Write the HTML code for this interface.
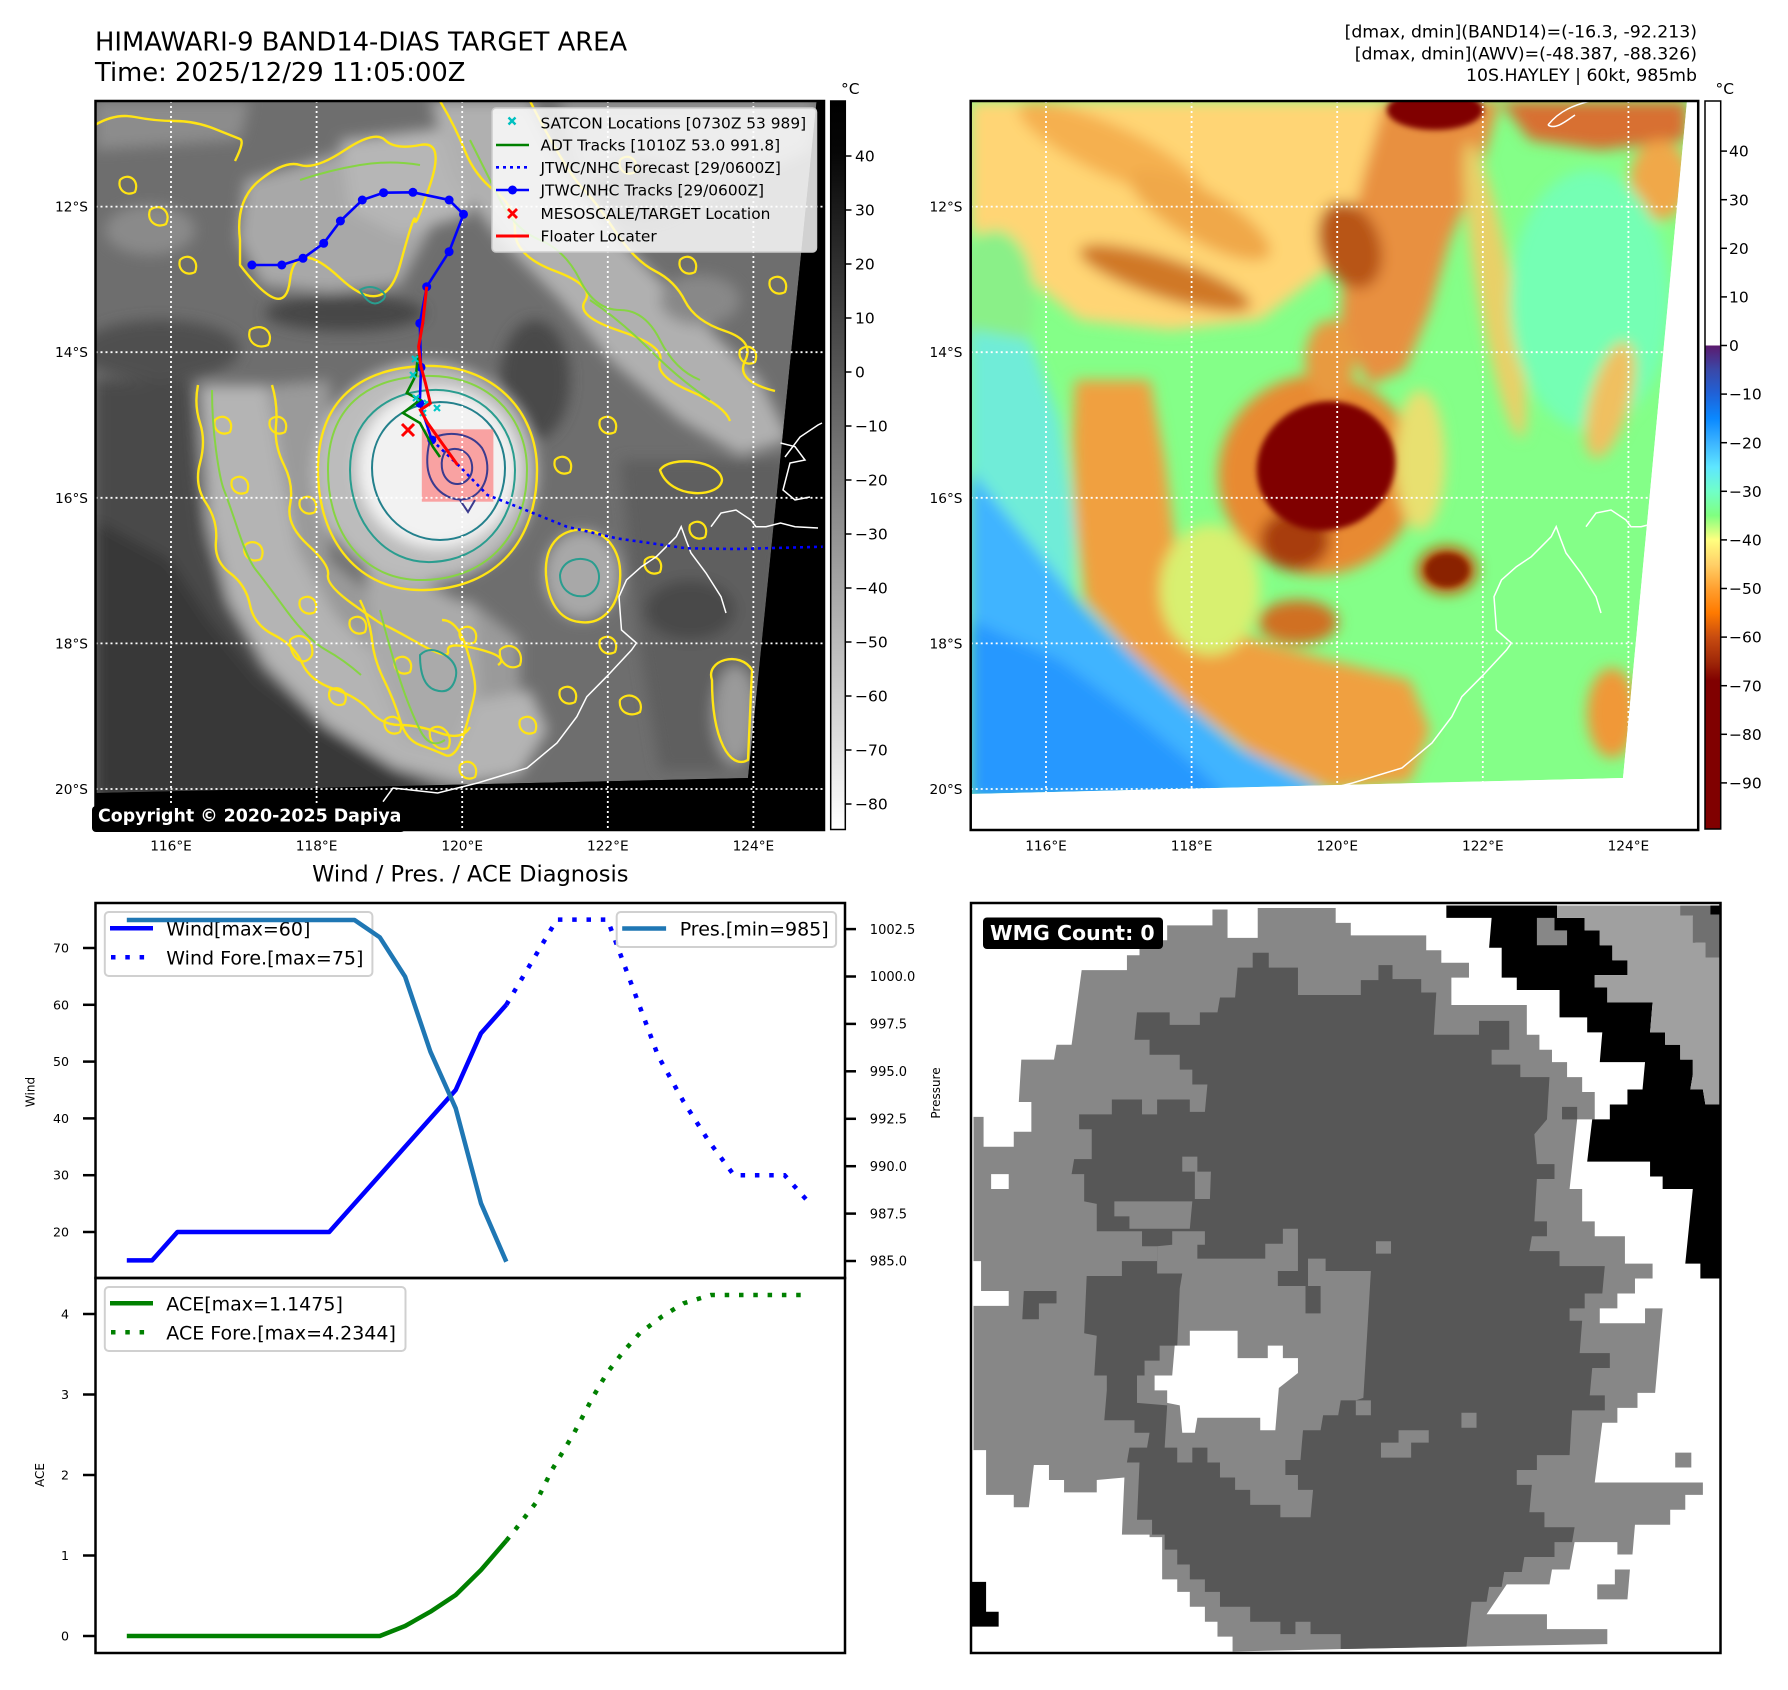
<!DOCTYPE html>
<html><head><meta charset="utf-8"><style>
html,body{margin:0;padding:0;background:#fff;}
svg{display:block;}
text{font-family:"DejaVu Sans","Liberation Sans",sans-serif;}
</style></head><body>
<svg width="1788" height="1690" viewBox="0 0 1788 1690" xmlns="http://www.w3.org/2000/svg">
<defs>
<filter id="bl" x="-10%" y="-10%" width="120%" height="120%"><feGaussianBlur stdDeviation="7"/></filter>
<filter id="bs" x="-10%" y="-10%" width="120%" height="120%"><feGaussianBlur stdDeviation="3"/></filter>
<clipPath id="cL"><polygon points="95.5,101 816.6,101 748,778 95.5,793"/></clipPath>
<clipPath id="cR"><polygon points="970.7,101 1687,101 1623,778 970.7,794"/></clipPath>
<clipPath id="cW"><rect x="971" y="903" width="749.5" height="750"/></clipPath>
<linearGradient id="gL" x1="0" y1="0" x2="0" y2="1">
<stop offset="0" stop-color="#000"/><stop offset="0.07" stop-color="#060606"/><stop offset="1" stop-color="#fff"/>
</linearGradient>
<linearGradient id="gR" x1="0" y1="0" x2="0" y2="1">
<stop offset="0" stop-color="#fff"/><stop offset="0.3358" stop-color="#fff"/>
<stop offset="0.3359" stop-color="#5c1a6e"/><stop offset="0.3692" stop-color="#3a48a8"/>
<stop offset="0.4026" stop-color="#1f62d8"/><stop offset="0.4360" stop-color="#0a88ff"/>
<stop offset="0.4694" stop-color="#3cb4ff"/><stop offset="0.5027" stop-color="#5ee6ff"/>
<stop offset="0.5361" stop-color="#70ffc8"/><stop offset="0.5695" stop-color="#80ff80"/>
<stop offset="0.6029" stop-color="#ffff80"/><stop offset="0.6363" stop-color="#ffd068"/>
<stop offset="0.6696" stop-color="#ffa030"/><stop offset="0.7030" stop-color="#ff7a00"/>
<stop offset="0.7364" stop-color="#c84c10"/><stop offset="0.7698" stop-color="#a02808"/>
<stop offset="0.7964" stop-color="#800000"/><stop offset="1" stop-color="#800000"/>
</linearGradient>
</defs>

<!-- ===== Titles ===== -->
<text x="95" y="50.7" font-size="25.8" fill="#000">HIMAWARI-9 BAND14-DIAS TARGET AREA</text>
<text x="95" y="81" font-size="25.8" fill="#000">Time: 2025/12/29 11:05:00Z</text>
<text x="1697" y="37.7" font-size="17.3" text-anchor="end" fill="#000">[dmax, dmin](BAND14)=(-16.3, -92.213)</text>
<text x="1697" y="59.4" font-size="17.3" text-anchor="end" fill="#000">[dmax, dmin](AWV)=(-48.387, -88.326)</text>
<text x="1697" y="81" font-size="17.3" text-anchor="end" fill="#000">10S.HAYLEY | 60kt, 985mb</text>

<!-- ===== LEFT MAP ===== -->
<rect x="95.5" y="101" width="728.5" height="729" fill="#000"/>
<g clip-path="url(#cL)">
<rect x="95" y="101" width="730" height="730" fill="#6e6e6e"/>
<g filter="url(#bl)">
<path d="M95,101 L250,101 L240,140 L95,150Z" fill="#8c8c8c"/>
<path d="M245,180 L300,165 L345,150 L400,140 L445,170 L430,230 L400,285 L330,292 L262,285 L238,240Z" fill="#a8a8a8"/>
<path d="M340,140 L470,125 L470,215 L400,235 L350,210Z" fill="#b6b6b6"/>
<path d="M430,101 L530,101 L560,160 L620,240 L700,320 L760,380 L790,440 L740,455 L680,420 L610,360 L560,300 L500,240 L455,180Z" fill="#b0b0b0"/>
<path d="M560,101 L816,101 L812,150 L700,200 L610,210 L570,160Z" fill="#9a9a9a"/>
<ellipse cx="345" cy="313" rx="80" ry="18" fill="#474747"/>
<ellipse cx="160" cy="350" rx="80" ry="30" fill="#505050"/>
<ellipse cx="535" cy="380" rx="35" ry="60" fill="#4a4a4a"/>
<ellipse cx="640" cy="190" rx="50" ry="30" fill="#5a5a5a"/>
<ellipse cx="700" cy="300" rx="40" ry="25" fill="#888"/>
<ellipse cx="150" cy="230" rx="45" ry="25" fill="#8a8a8a"/>
<path d="M95,380 L190,380 L196,470 L205,540 L230,610 L270,665 L325,710 L390,755 L440,790 L460,800 L95,800Z" fill="#4a4a4a"/>
<path d="M95,520 L170,560 L210,620 L260,680 L330,730 L400,775 L430,800 L95,800Z" fill="#383838"/>
<path d="M270,385 L330,380 L330,560 L380,600 L470,600 L520,640 L520,700 L420,700 L330,640 L290,560Z" fill="#9a9a9a"/>
<path d="M200,385 L268,385 L282,470 L298,550 L335,615 L380,660 L430,690 L480,700 L530,690 L548,730 L520,775 L460,785 L395,768 L325,725 L265,665 L228,600 L208,520Z" fill="#b4b4b4"/>
<path d="M365,560 L430,585 L475,610 L480,690 L455,750 L405,740 L372,660Z" fill="#aaaaaa"/>
<ellipse cx="582" cy="575" rx="38" ry="45" fill="#a8a8a8"/>
<path d="M620,460 L790,460 L775,600 L760,770 L660,770 L640,650Z" fill="#5e5e5e"/>
<ellipse cx="690" cy="610" rx="45" ry="30" fill="#4a4a4a"/>
<ellipse cx="735" cy="715" rx="22" ry="50" fill="#9a9a9a"/>
<ellipse cx="425" cy="472" rx="112" ry="110" fill="#bcbcbc"/>
<ellipse cx="438" cy="468" rx="80" ry="80" fill="#f2f2f2"/>
</g>
<!-- contours -->
<g fill="none" stroke-width="2.4" stroke-linejoin="round">
<path stroke="#ffe414" d="M318,470 C318,400 360,368 425,366 C492,364 537,410 537,470 C537,540 497,588 425,590 C358,592 318,540 318,470Z"/>
<path stroke="#ffe414" d="M198,385 q-4,20 2,38 t0,40 t6,40 t10,38 t14,32 t20,32 t24,30 t28,28 t32,26 t36,22 t30,14 t40,8 t30,-6"/>
<path stroke="#ffe414" d="M272,385 q6,20 4,40 t8,40 t6,40 t18,40 t20,30 t26,30 t30,20 t34,18 t30,8 t30,-2 t20,16"/>
<path stroke="#ffe414" d="M360,600 q10,20 12,40 t12,40 t16,40 t20,25 t25,10 t20,-25 t10,-40 t-8,-40 t-25,-30"/>
<path stroke="#ffe414" d="M546,575 C544,540 565,528 585,530 C610,532 622,555 620,580 C618,610 600,625 580,622 C558,620 548,600 546,575Z"/>
<path stroke="#ffe414" d="M240,240 q-5,-40 20,-60 t40,-15 t45,-15 t40,-10 t35,5 t10,40 t-15,35 t-15,45 t-60,13 t-50,2 t-50,-15Z"/>
<path stroke="#ffe414" d="M440,101 q15,25 25,50 t30,40 t20,40 t40,40 t30,30 t35,30 t40,30 t30,30 t40,30"/>
<path stroke="#ffe414" d="M530,101 q15,30 30,55 t25,35 t30,40 t40,40 t30,30 t40,30 t20,30 t30,30"/>
<path stroke="#ffe414" d="M95,125 q20,-12 40,-8 t40,4 t40,8 t25,10 t-5,22"/>
<path stroke="#ffe414" d="M712,680 C705,660 740,650 752,670 L748,760 C730,770 712,740 712,680Z"/>
<path stroke="#ffe414" d="M660,470 C670,455 720,460 722,480 C720,498 670,500 660,470Z"/>
<path stroke="#ffe414" stroke-width="2.2" d="M290,640 c10,-10 25,0 22,15 c-7,13 -22,5 -22,-15Z M430,730 c10,-10 25,5 18,18 c-10,4 -20,-6 -18,-18Z M500,650 c10,-10 25,0 20,15 c-10,7 -22,-3 -20,-15Z M250,330 c12,-8 25,2 18,15 c-10,5 -22,-3 -18,-15Z M620,700 c8,-10 25,-2 20,12 c-10,6 -22,0 -20,-12Z M215,420 c8,-8 20,0 15,12 c-8,5 -18,-2 -15,-12Z M232,480 c8,-8 20,0 15,12 c-8,5 -18,-2 -15,-12Z M245,545 c10,-8 22,2 16,14 c-9,5 -20,-3 -16,-14Z M300,600 c8,-8 20,0 15,12 c-8,5 -18,-2 -15,-12Z M330,690 c10,-6 20,4 14,14 c-9,4 -18,-4 -14,-14Z M385,720 c8,-8 20,0 15,12 c-8,5 -18,-2 -15,-12Z M460,765 c8,-8 20,0 15,12 c-8,5 -18,-2 -15,-12Z M520,720 c8,-8 20,0 15,12 c-8,5 -18,-2 -15,-12Z M560,690 c8,-8 20,0 15,12 c-8,5 -18,-2 -15,-12Z M600,640 c8,-8 20,0 15,12 c-8,5 -18,-2 -15,-12Z M645,560 c8,-8 20,0 15,12 c-8,5 -18,-2 -15,-12Z M690,525 c8,-8 20,0 15,12 c-8,5 -18,-2 -15,-12Z M555,460 c8,-8 20,0 15,12 c-8,5 -18,-2 -15,-12Z M600,420 c8,-8 20,0 15,12 c-8,5 -18,-2 -15,-12Z M350,620 c8,-8 20,0 15,12 c-8,5 -18,-2 -15,-12Z M460,630 c8,-8 20,0 15,12 c-8,5 -18,-2 -15,-12Z M150,210 c10,-8 22,2 16,14 c-9,5 -20,-3 -16,-14Z M180,260 c8,-8 20,0 15,12 c-8,5 -18,-2 -15,-12Z M120,180 c8,-8 20,0 15,12 c-8,5 -18,-2 -15,-12Z M620,160 c8,-8 20,0 15,12 c-8,5 -18,-2 -15,-12Z M680,260 c8,-8 20,0 15,12 c-8,5 -18,-2 -15,-12Z M740,350 c8,-8 20,0 15,12 c-8,5 -18,-2 -15,-12Z M770,280 c8,-8 20,0 15,12 c-8,5 -18,-2 -15,-12Z M270,420 c8,-8 20,0 15,12 c-8,5 -18,-2 -15,-12Z M300,500 c8,-8 20,0 15,12 c-8,5 -18,-2 -15,-12Z M395,660 c8,-8 20,0 15,12 c-8,5 -18,-2 -15,-12Z"/>
<path stroke="#86d443" stroke-width="2" d="M328,470 C328,408 366,378 425,376 C486,374 527,415 527,470 C527,533 490,578 425,580 C364,582 328,534 328,470Z"/>
<path stroke="#86d443" stroke-width="2" d="M212,390 q0,30 4,60 t8,40 t14,40 t18,40 t30,40 t40,40 t35,25"/>
<path stroke="#86d443" stroke-width="2" d="M470,140 q15,30 30,60 t40,40 t40,40 t40,30 t40,30 t40,40"/>
<path stroke="#86d443" stroke-width="2" d="M380,610 q10,40 20,70 t20,50 t25,10 M300,180 q30,-10 60,-15 t60,0 M590,300 q30,20 60,50 t60,50"/>
<path stroke="#2a9d8f" stroke-width="2" d="M350,470 C350,420 385,392 432,390 C480,388 515,425 515,470 C515,522 482,560 432,562 C385,564 350,522 350,470Z"/>
<path stroke="#23808c" stroke-width="2" d="M372,468 C372,430 400,404 440,402 C478,402 505,432 505,468 C505,508 478,540 440,540 C402,540 372,508 372,468Z"/>
<path stroke="#2a9d8f" stroke-width="2" d="M560,575 C562,560 580,555 592,562 C604,572 600,592 585,596 C570,598 560,588 560,575Z"/>
<path stroke="#2a9d8f" stroke-width="2" d="M420,655 q10,-10 25,0 t10,25 t-20,10 t-15,-35Z M360,290 q10,-6 20,0 t0,12 t-20,-12Z"/>
</g>
<rect x="421.8" y="429.3" width="71.6" height="72.4" fill="#ff6060" fill-opacity="0.55"/>
<g fill="none" stroke="#3b3b8f" stroke-width="2">
<path d="M430,440 C445,430 470,432 482,448 C492,465 488,490 470,498 C450,504 432,490 428,470 C426,458 428,448 430,440Z"/>
<path d="M445,452 C455,445 470,450 472,465 C474,480 460,488 450,482 C440,475 440,460 445,452Z"/>
<path d="M460,500 L468,512 L475,500"/>
</g>
</g>
<!-- outside data black -->
<polygon points="816.6,101 824,101 824,830 95.5,830 95.5,793 748,778" fill="#000"/>
<!-- coastline -->
<g fill="none" stroke="#fff" stroke-width="1.5">
<polyline points="383,801.7 393,788 437.7,793 477.5,783 527,768 557,743 576.8,716.7 586.8,696.7 606.6,676.7 631.5,650 636.4,643 621.5,630 619,596.7 626.5,580 641.4,566.7 656.3,556.7 666.3,546.7 676.2,536.7 681.2,526.7 686,540 691,553 706,573 721,596.7 726,613"/>
<polyline points="711,526.7 721,513 736,510 751,520 756,526.7 766,526.7 780.5,523 795,526.7 818,528"/>
<polyline points="780.5,443 795,446.7 805,460 790,463 783,490 795,500 810,497"/>
<polyline points="785,457 800,437 818,425 822,423"/>
</g>
<!-- gridlines -->
<g stroke="#fff" stroke-width="1.8" stroke-dasharray="2 3">
<line x1="171" y1="101" x2="171" y2="830"/><line x1="316.6" y1="101" x2="316.6" y2="830"/>
<line x1="462.2" y1="101" x2="462.2" y2="830"/><line x1="607.8" y1="101" x2="607.8" y2="830"/>
<line x1="753.4" y1="101" x2="753.4" y2="830"/>
<line x1="95.5" y1="206.6" x2="824" y2="206.6"/><line x1="95.5" y1="352.2" x2="824" y2="352.2"/>
<line x1="95.5" y1="497.8" x2="824" y2="497.8"/><line x1="95.5" y1="643.4" x2="824" y2="643.4"/>
<line x1="95.5" y1="789" x2="824" y2="789"/>
</g>
<!-- tracks -->
<polyline fill="none" stroke="#0000ff" stroke-width="2.6" stroke-dasharray="3 4" points="431.8,440 460,466.7 487.4,495 517.2,506.7 566.9,526.7 616.6,538.3 686.1,548.3 735.8,549 824,546.7"/>
<polyline fill="none" stroke="#0000ff" stroke-width="2.6" points="251.9,265 281.8,265 303,258.3 323.7,243.3 340.4,221 362.3,200 383.6,192.7 412.9,192.3 449.1,200 463.5,214.3 449.1,251.7 426.7,286.7 419.8,323.3 421,367.3 419.8,403.3 431.8,440"/>
<g fill="#0000ff">
<circle cx="251.9" cy="265" r="4.5"/><circle cx="281.8" cy="265" r="4.5"/><circle cx="303" cy="258.3" r="4.5"/><circle cx="323.7" cy="243.3" r="4.5"/><circle cx="340.4" cy="221" r="4.5"/><circle cx="362.3" cy="200" r="4.5"/><circle cx="383.6" cy="192.7" r="4.5"/><circle cx="412.9" cy="192.3" r="4.5"/><circle cx="449.1" cy="200" r="4.5"/><circle cx="463.5" cy="214.3" r="4.5"/><circle cx="449.1" cy="251.7" r="4.5"/><circle cx="426.7" cy="286.7" r="4.5"/><circle cx="419.8" cy="323.3" r="4.5"/><circle cx="421" cy="367.3" r="4.5"/><circle cx="419.8" cy="403.3" r="4.5"/><circle cx="431.8" cy="440" r="4.5"/>
</g>
<polyline fill="none" stroke="#008000" stroke-width="2.6" points="418,355 416,375 406.8,393 420,400 403,413 420,423 433,447 440,457"/>
<g stroke="#00c8c8" stroke-width="2.2">
<path d="M412,356 l6,6 m0,-6 l-6,6 M410,372 l6,6 m0,-6 l-6,6 M413,395 l6,6 m0,-6 l-6,6 M424,400 l6,6 m0,-6 l-6,6 M434,405 l6,6 m0,-6 l-6,6 M420,410 l6,6 m0,-6 l-6,6"/>
</g>
<polyline fill="none" stroke="#ff0000" stroke-width="3" points="426.7,286.7 422.7,323.3 418.6,346.7 421,366.7 425.5,383.3 430.3,403.3 420.3,410 427.8,423.3 457.6,465"/>
<path d="M402,424 l12,12 m0,-12 l-12,12" stroke="#ff0000" stroke-width="3"/>
<!-- legend -->
<rect x="492" y="108" width="324.5" height="144" rx="4" fill="#fff" fill-opacity="0.82" stroke="#cccccc" stroke-width="1.5"/>
<path d="M508.5,117.5 l7,7 m0,-7 l-7,7" stroke="#00c0c0" stroke-width="2.4"/>
<line x1="496" y1="145" x2="529" y2="145" stroke="#008000" stroke-width="2.6"/>
<line x1="496" y1="167.3" x2="529" y2="167.3" stroke="#0000ff" stroke-width="2.6" stroke-dasharray="3 4"/>
<line x1="496" y1="190" x2="529" y2="190" stroke="#0000ff" stroke-width="2.6"/><circle cx="512.5" cy="190" r="4.5" fill="#0000ff"/>
<path d="M508,209 l9,9 m0,-9 l-9,9" stroke="#ff0000" stroke-width="2.8"/>
<line x1="496" y1="236" x2="529" y2="236" stroke="#ff0000" stroke-width="3"/>
<g font-size="15.4" fill="#000">
<text x="540.5" y="128.3">SATCON Locations [0730Z 53 989]</text>
<text x="540.5" y="150.6">ADT Tracks [1010Z 53.0 991.8]</text>
<text x="540.5" y="172.9">JTWC/NHC Forecast [29/0600Z]</text>
<text x="540.5" y="195.6">JTWC/NHC Tracks [29/0600Z]</text>
<text x="540.5" y="218.9">MESOSCALE/TARGET Location</text>
<text x="540.5" y="241.6">Floater Locater</text>
</g>
<rect x="92" y="806" width="313" height="26" rx="4" fill="#000"/>
<text x="98" y="821.7" font-size="17.4" font-weight="bold" fill="#fff">Copyright © 2020-2025 Dapiya</text>
<rect x="95.5" y="101" width="728.5" height="729" fill="none" stroke="#000" stroke-width="2.5"/>
<!-- left map tick labels -->
<g font-size="13.7" fill="#000" text-anchor="end">
<text x="88" y="211.6">12°S</text><text x="88" y="357.2">14°S</text><text x="88" y="502.8">16°S</text><text x="88" y="648.4">18°S</text><text x="88" y="794">20°S</text>
</g>
<g font-size="13.7" fill="#000" text-anchor="middle">
<text x="171" y="850.7">116°E</text><text x="316.6" y="850.7">118°E</text><text x="462.2" y="850.7">120°E</text><text x="607.8" y="850.7">122°E</text><text x="753.4" y="850.7">124°E</text>
</g>
<!-- left colorbar -->
<rect x="830.7" y="101" width="14.6" height="728.5" fill="url(#gL)" stroke="#000" stroke-width="1.5"/>
<text x="841" y="94" font-size="15.4" fill="#000">°C</text>
<g stroke="#000" stroke-width="1.5">
<line x1="845.3" y1="156" x2="851.5" y2="156"/><line x1="845.3" y1="210" x2="851.5" y2="210"/><line x1="845.3" y1="264" x2="851.5" y2="264"/><line x1="845.3" y1="318" x2="851.5" y2="318"/><line x1="845.3" y1="372" x2="851.5" y2="372"/><line x1="845.3" y1="426" x2="851.5" y2="426"/><line x1="845.3" y1="480" x2="851.5" y2="480"/><line x1="845.3" y1="534" x2="851.5" y2="534"/><line x1="845.3" y1="588" x2="851.5" y2="588"/><line x1="845.3" y1="642" x2="851.5" y2="642"/><line x1="845.3" y1="696" x2="851.5" y2="696"/><line x1="845.3" y1="750" x2="851.5" y2="750"/><line x1="845.3" y1="804" x2="851.5" y2="804"/>
</g>
<g font-size="15.5" fill="#000">
<text x="855" y="161.6">40</text><text x="855" y="215.6">30</text><text x="855" y="269.6">20</text><text x="855" y="323.6">10</text><text x="855" y="377.6">0</text><text x="855" y="431.6">−10</text><text x="855" y="485.6">−20</text><text x="855" y="539.6">−30</text><text x="855" y="593.6">−40</text><text x="855" y="647.6">−50</text><text x="855" y="701.6">−60</text><text x="855" y="755.6">−70</text><text x="855" y="809.6">−80</text>
</g>

<!-- ===== RIGHT MAP ===== -->
<rect x="970.7" y="101" width="728" height="729" fill="#fff"/>
<g clip-path="url(#cR)">
<rect x="970" y="101" width="730" height="730" fill="#84ff88"/>
<g filter="url(#bl)">
<path d="M970,101 L1390,101 L1370,180 L1340,260 L1260,320 L1170,330 L1080,320 L1030,280 L990,240 L970,230Z" fill="#ffd574"/>
<ellipse cx="995" cy="300" rx="40" ry="70" fill="#8af088"/>
<ellipse cx="1110" cy="150" rx="100" ry="25" transform="rotate(25 1110 150)" fill="#f5b050"/>
<ellipse cx="1200" cy="215" rx="80" ry="25" transform="rotate(30 1200 215)" fill="#f0a848"/>
<ellipse cx="1165" cy="278" rx="90" ry="20" transform="rotate(18 1165 278)" fill="#d07828"/>
<path d="M1385,101 L1500,101 L1480,170 L1450,240 L1430,310 L1405,370 L1370,385 L1340,330 L1345,250 L1365,170Z" fill="#e89040"/>
<ellipse cx="1350" cy="245" rx="30" ry="45" transform="rotate(-20 1350 245)" fill="#b85418"/>
<path d="M1500,101 L1687,101 L1687,140 L1600,150 L1530,140Z" fill="#d87030"/>
<ellipse cx="1660" cy="180" rx="30" ry="40" fill="#f0a848"/>
<ellipse cx="1495" cy="290" rx="18" ry="150" transform="rotate(-10 1495 290)" fill="#e8d068"/>
<ellipse cx="1590" cy="300" rx="80" ry="130" fill="#74ffb4"/>
<ellipse cx="1610" cy="400" rx="20" ry="60" transform="rotate(15 1610 400)" fill="#f0c060"/>
<path d="M970,330 L1030,340 L1060,420 L1075,520 L1074,597 L970,560Z" fill="#70ecd8"/>
<path d="M970,470 L1074,597 L1124,647 L1178,697 L1238,747 L1318,787 L1318,800 L970,800Z" fill="#40b4ff"/>
<path d="M970,620 L1060,660 L1140,720 L1200,770 L1230,800 L970,800Z" fill="#2898ff"/>
<path d="M1075,380 L1150,380 L1165,460 L1175,540 L1205,600 L1255,640 L1330,660 L1410,680 L1430,730 L1410,782 L1330,790 L1250,752 L1185,702 L1130,652 L1085,600 L1075,520 L1072,440Z" fill="#f0a040"/>
<ellipse cx="1318" cy="475" rx="100" ry="100" fill="#e88a30"/>
<ellipse cx="1330" cy="360" rx="25" ry="40" fill="#e89a40"/>
<ellipse cx="1210" cy="590" rx="50" ry="65" fill="#d8f070"/>
<ellipse cx="1295" cy="540" rx="35" ry="30" fill="#a83c08"/>
<ellipse cx="1298" cy="622" rx="40" ry="22" fill="#d07020"/>
<ellipse cx="1612" cy="713" rx="25" ry="45" fill="#f09838"/>
<ellipse cx="1420" cy="460" rx="25" ry="70" fill="#e8e070"/>
<ellipse cx="1447" cy="570" rx="30" ry="24" fill="#c05a10"/>
</g>
<g filter="url(#bs)">
<ellipse cx="1435" cy="110" rx="48" ry="20" fill="#800000"/>
<ellipse cx="1326" cy="466" rx="70" ry="64" transform="rotate(-20 1326 466)" fill="#800000"/>
<ellipse cx="1447" cy="570" rx="22" ry="17" fill="#8a2000"/>
</g>
</g>
<polygon points="1687,101 1699,101 1699,830 970.7,830 970.7,794 1623,778" fill="#fff"/>
<g fill="none" stroke="#fff" stroke-width="1.5">
<polyline points="1258,801.7 1268,788 1312.7,793 1352.5,783 1402,768 1432,743 1451.8,716.7 1461.8,696.7 1481.6,676.7 1506.5,650 1511.4,643 1496.5,630 1494,596.7 1501.5,580 1516.4,566.7 1531.3,556.7 1541.3,546.7 1551.2,536.7 1556.2,526.7 1561,540 1566,553 1581,573 1596,596.7 1601,613"/>
<polyline points="1586,526.7 1596,513 1611,510 1626,520 1631,526.7 1641,526.7 1655.5,523 1670,526.7"/>
<path d="M1548,125 C1560,110 1575,105 1590,101 M1548,125 C1555,130 1565,122 1575,115"/>
</g>
<g stroke="#fff" stroke-width="1.8" stroke-dasharray="2 3">
<line x1="1046" y1="101" x2="1046" y2="830"/><line x1="1191.6" y1="101" x2="1191.6" y2="830"/>
<line x1="1337.2" y1="101" x2="1337.2" y2="830"/><line x1="1482.8" y1="101" x2="1482.8" y2="830"/>
<line x1="1628.4" y1="101" x2="1628.4" y2="830"/>
<line x1="970.7" y1="206.6" x2="1698" y2="206.6"/><line x1="970.7" y1="352.2" x2="1698" y2="352.2"/>
<line x1="970.7" y1="497.8" x2="1698" y2="497.8"/><line x1="970.7" y1="643.4" x2="1698" y2="643.4"/>
<line x1="970.7" y1="789" x2="1698" y2="789"/>
</g>
<rect x="970.7" y="101" width="727.5" height="729" fill="none" stroke="#000" stroke-width="2.5"/>
<g font-size="13.7" fill="#000" text-anchor="end">
<text x="962.5" y="211.6">12°S</text><text x="962.5" y="357.2">14°S</text><text x="962.5" y="502.8">16°S</text><text x="962.5" y="648.4">18°S</text><text x="962.5" y="794">20°S</text>
</g>
<g font-size="13.7" fill="#000" text-anchor="middle">
<text x="1046" y="850.7">116°E</text><text x="1191.6" y="850.7">118°E</text><text x="1337.2" y="850.7">120°E</text><text x="1482.8" y="850.7">122°E</text><text x="1628.4" y="850.7">124°E</text>
</g>
<!-- right colorbar -->
<rect x="1705" y="101" width="15.7" height="728" fill="url(#gR)" stroke="#000" stroke-width="1.5"/>
<text x="1715.5" y="94" font-size="15.4" fill="#000">°C</text>
<g stroke="#000" stroke-width="1.5">
<line x1="1720.7" y1="151.1" x2="1727" y2="151.1"/><line x1="1720.7" y1="199.7" x2="1727" y2="199.7"/><line x1="1720.7" y1="248.3" x2="1727" y2="248.3"/><line x1="1720.7" y1="296.9" x2="1727" y2="296.9"/><line x1="1720.7" y1="345.5" x2="1727" y2="345.5"/><line x1="1720.7" y1="394.1" x2="1727" y2="394.1"/><line x1="1720.7" y1="442.7" x2="1727" y2="442.7"/><line x1="1720.7" y1="491.3" x2="1727" y2="491.3"/><line x1="1720.7" y1="539.9" x2="1727" y2="539.9"/><line x1="1720.7" y1="588.5" x2="1727" y2="588.5"/><line x1="1720.7" y1="637.1" x2="1727" y2="637.1"/><line x1="1720.7" y1="685.7" x2="1727" y2="685.7"/><line x1="1720.7" y1="734.3" x2="1727" y2="734.3"/><line x1="1720.7" y1="782.9" x2="1727" y2="782.9"/>
</g>
<g font-size="15.5" fill="#000">
<text x="1729" y="156.7">40</text><text x="1729" y="205.3">30</text><text x="1729" y="253.9">20</text><text x="1729" y="302.5">10</text><text x="1729" y="351.1">0</text><text x="1729" y="399.7">−10</text><text x="1729" y="448.3">−20</text><text x="1729" y="496.9">−30</text><text x="1729" y="545.5">−40</text><text x="1729" y="594.1">−50</text><text x="1729" y="642.7">−60</text><text x="1729" y="691.3">−70</text><text x="1729" y="739.9">−80</text><text x="1729" y="788.5">−90</text>
</g>

<!-- ===== DIAGNOSIS PANEL ===== -->
<text x="470.3" y="881.7" font-size="22.5" text-anchor="middle" fill="#000">Wind / Pres. / ACE Diagnosis</text>
<!-- upper axes -->
<polyline fill="none" stroke="#0000ff" stroke-width="4.5" stroke-linejoin="round" points="126.8,1260.4 152.1,1260.4 177.4,1232 329.2,1232 354.5,1203.6 379.8,1175.2 405.1,1146.8 430.4,1118.4 455.7,1090 481,1033.2 506.3,1004.8"/>
<polyline fill="none" stroke="#0000ff" stroke-width="4.5" stroke-dasharray="4.5 9.8" points="506.3,1004.8 531.6,962.2 556.9,919.6 582.2,919.6 607.5,919.6 632.8,987.8 658.1,1055.9 683.4,1101.4 708.7,1141.1 734,1175.2 759.3,1175.2 784.6,1175.2 809.9,1203.6"/>
<rect x="104.8" y="912" width="267.6" height="64" rx="4" fill="#fff" fill-opacity="0.85" stroke="#d0d0d0" stroke-width="2"/>
<line x1="110" y1="928.3" x2="153" y2="928.3" stroke="#0000ff" stroke-width="4.5"/>
<line x1="111" y1="957.3" x2="153" y2="957.3" stroke="#0000ff" stroke-width="4.5" stroke-dasharray="4.5 9.8"/>
<text x="166.3" y="935.3" font-size="19" fill="#000">Wind[max=60]</text>
<text x="166.3" y="964.3" font-size="19" fill="#000">Wind Fore.[max=75]</text>
<polyline fill="none" stroke="#1f77b4" stroke-width="4.5" stroke-linejoin="round" points="126.8,920 354.5,920 379.8,937.3 405.1,976.7 430.4,1051.7 455.7,1108.3 481,1203.3 506.3,1261.7"/>
<rect x="616.7" y="912" width="219.4" height="35" rx="4" fill="#fff" fill-opacity="0.85" stroke="#d0d0d0" stroke-width="2"/>
<line x1="622.2" y1="928.5" x2="666.1" y2="928.5" stroke="#1f77b4" stroke-width="4.5"/>
<text x="679.7" y="935.5" font-size="19" fill="#000">Pres.[min=985]</text>
<rect x="95.5" y="903" width="749.5" height="375" fill="none" stroke="#000" stroke-width="2.5"/>
<g stroke="#000" stroke-width="2.5">
<line x1="83" y1="948" x2="95.5" y2="948"/><line x1="83" y1="1004.8" x2="95.5" y2="1004.8"/><line x1="83" y1="1061.6" x2="95.5" y2="1061.6"/><line x1="83" y1="1118.4" x2="95.5" y2="1118.4"/><line x1="83" y1="1175.2" x2="95.5" y2="1175.2"/><line x1="83" y1="1232" x2="95.5" y2="1232"/>
<line x1="845" y1="929.1" x2="856" y2="929.1"/><line x1="845" y1="976.5" x2="856" y2="976.5"/><line x1="845" y1="1023.9" x2="856" y2="1023.9"/><line x1="845" y1="1071.3" x2="856" y2="1071.3"/><line x1="845" y1="1118.8" x2="856" y2="1118.8"/><line x1="845" y1="1166.2" x2="856" y2="1166.2"/><line x1="845" y1="1213.6" x2="856" y2="1213.6"/><line x1="845" y1="1261" x2="856" y2="1261"/>
</g>
<g font-size="12.6" fill="#000" text-anchor="end">
<text x="69" y="952.5">70</text><text x="69" y="1009.3">60</text><text x="69" y="1066.1">50</text><text x="69" y="1122.9">40</text><text x="69" y="1179.7">30</text><text x="69" y="1236.5">20</text>
</g>
<g font-size="13" fill="#000">
<text x="869.8" y="933.8">1002.5</text><text x="869.8" y="981.2">1000.0</text><text x="869.8" y="1028.6">997.5</text><text x="869.8" y="1076">995.0</text><text x="869.8" y="1123.5">992.5</text><text x="869.8" y="1170.9">990.0</text><text x="869.8" y="1218.3">987.5</text><text x="869.8" y="1265.7">985.0</text>
</g>
<text transform="translate(34.5,1092) rotate(-90)" font-size="12" text-anchor="middle" fill="#000">Wind</text>
<text transform="translate(940,1093) rotate(-90)" font-size="12" text-anchor="middle" fill="#000">Pressure</text>
<!-- lower axes -->
<polyline fill="none" stroke="#008000" stroke-width="4.5" stroke-linejoin="round" points="126.8,1636 379.8,1636 405.1,1626 430.4,1611.7 455.7,1595 481,1570 506.3,1540.7"/>
<polyline fill="none" stroke="#008000" stroke-width="4.5" stroke-dasharray="4.5 9.8" points="506.3,1540.7 516.3,1528.3 535.5,1503.3 551.9,1470 573.9,1433.3 593.1,1396.7 606.8,1373.3 623.3,1351.7 639.7,1333.3 661.7,1316.7 683.6,1303.3 711,1295 809.9,1295"/>
<rect x="104.8" y="1287" width="300.7" height="64" rx="4" fill="#fff" fill-opacity="0.85" stroke="#d0d0d0" stroke-width="2"/>
<line x1="110" y1="1303.3" x2="153" y2="1303.3" stroke="#008000" stroke-width="4.5"/>
<line x1="111" y1="1332.3" x2="153" y2="1332.3" stroke="#008000" stroke-width="4.5" stroke-dasharray="4.5 9.8"/>
<text x="166.3" y="1310.3" font-size="19" fill="#000">ACE[max=1.1475]</text>
<text x="166.3" y="1339.3" font-size="19" fill="#000">ACE Fore.[max=4.2344]</text>
<rect x="95.5" y="1278" width="749.5" height="375" fill="none" stroke="#000" stroke-width="2.5"/>
<g stroke="#000" stroke-width="2.5">
<line x1="83" y1="1636" x2="95.5" y2="1636"/><line x1="83" y1="1555.5" x2="95.5" y2="1555.5"/><line x1="83" y1="1475" x2="95.5" y2="1475"/><line x1="83" y1="1394.5" x2="95.5" y2="1394.5"/><line x1="83" y1="1314" x2="95.5" y2="1314"/>
</g>
<g font-size="12.6" fill="#000" text-anchor="end">
<text x="69" y="1640.5">0</text><text x="69" y="1560">1</text><text x="69" y="1479.5">2</text><text x="69" y="1399">3</text><text x="69" y="1318.5">4</text>
</g>
<text transform="translate(44,1475) rotate(-90)" font-size="12" text-anchor="middle" fill="#000">ACE</text>

<!-- ===== WMG PANEL ===== -->
<g clip-path="url(#cW)">
<svg x="960.94" y="890.57" width="784.7" height="775.9" viewBox="0 0 1560 1560" preserveAspectRatio="none">
<rect x="0" y="0" width="1560" height="1560" fill="#fff"/>
<path fill="#878787" d="M440,70 L500,70 L500,38 L530,38 L530,95 L590,95 L590,35 L745,35 L745,65 L775,65 L775,90 L925,90 L925,120 L955,120 L955,145 L1010,145 L1010,175 L975,175 L975,230 L1125,230 L1125,290 L1150,290 L1150,320 L1175,320 L1175,345 L1205,345 L1205,375 L1235,375 L1235,405 L1260,405 L1260,460 L1225,460 L1210,600 L1235,600 L1235,665 L1260,665 L1260,695 L1320,695 L1320,750 L1375,750 L1375,780 L1340,780 L1340,810 L1305,810 L1305,840 L1270,840 L1270,870 L1360,870 L1360,840 L1395,840 L1380,1010 L1345,1010 L1345,1040 L1305,1040 L1305,1070 L1275,1070 L1260,1190 L1475,1190 L1475,1215 L1440,1215 L1440,1245 L1410,1245 L1410,1275 L1340,1275 L1335,1335 L1305,1335 L1305,1310 L1220,1310 L1210,1365 L1175,1365 L1170,1395 L1085,1395 L1045,1455 L1165,1455 L1165,1485 L1285,1485 L1285,1515 L1000,1520 L760,1525 L540,1530 L540,1500 L510,1500 L510,1470 L485,1470 L485,1440 L455,1440 L455,1410 L430,1410 L430,1385 L400,1385 L400,1300 L375,1300 L375,1295 L320,1295 L325,1180 L270,1185 L270,1210 L205,1210 L205,1185 L175,1185 L175,1155 L145,1155 L135,1240 L105,1240 L105,1215 L50,1215 L50,1125 L25,1125 L25,455 L45,455 L45,515 L105,515 L105,485 L140,485 L140,425 L115,425 L120,340 L185,340 L190,310 L220,310 L240,160 L330,160 L330,130 L355,130 L355,100 L410,100 L410,70 Z"/>
<path fill="#fff" d="M60,570 L95,570 L95,600 L60,600Z M25,805 L95,805 L95,835 L25,835Z M25,745 L40,745 L40,805 L25,805Z"/>
<path fill="#878787" d="M1300,1365 L1330,1365 L1325,1425 L1265,1425 L1265,1395 L1300,1395Z M1420,1130 L1452,1130 L1452,1160 L1420,1160Z"/>
<path fill="#575757" d="M550,155 L580,155 L580,125 L612,125 L612,155 L670,155 L670,210 L795,210 L795,180 L830,180 L830,150 L858,150 L858,178 L915,178 L915,205 L945,205 L940,290 L1030,290 L1030,262 L1090,262 L1090,320 L1055,320 L1055,350 L1112,350 L1112,375 L1170,375 L1165,460 L1140,490 L1145,550 L1180,550 L1180,580 L1145,580 L1140,665 L1165,665 L1165,695 L1135,695 L1130,725 L1190,725 L1190,755 L1280,755 L1275,810 L1240,810 L1240,840 L1210,840 L1210,865 L1235,865 L1230,930 L1290,930 L1290,960 L1255,960 L1250,1015 L1280,1015 L1280,1045 L1215,1045 L1210,1135 L1145,1135 L1145,1165 L1105,1165 L1105,1195 L1135,1195 L1130,1250 L1160,1250 L1160,1280 L1220,1280 L1215,1310 L1180,1310 L1180,1340 L1120,1340 L1115,1370 L1080,1370 L1075,1400 L1050,1400 L1045,1430 L1015,1430 L1005,1520 L755,1525 L755,1495 L695,1495 L695,1470 L665,1470 L665,1495 L635,1495 L635,1470 L575,1470 L575,1440 L515,1440 L515,1410 L485,1410 L485,1385 L455,1385 L455,1355 L430,1355 L430,1325 L405,1325 L405,1295 L380,1295 L380,1265 L350,1265 L355,1150 L330,1150 L335,1120 L370,1120 L375,1090 L345,1090 L345,1065 L285,1065 L290,1005 L290,975 L265,975 L270,895 L245,890 L250,775 L320,775 L320,745 L390,745 L390,715 L360,715 L360,685 L270,685 L270,630 L245,625 L245,570 L220,570 L225,540 L260,540 L260,480 L235,480 L235,450 L300,450 L300,420 L360,420 L360,450 L390,450 L390,420 L455,420 L455,445 L485,445 L490,390 L460,390 L460,360 L435,360 L435,330 L375,330 L375,300 L345,300 L350,245 L415,245 L415,270 L475,270 L475,245 L510,245 L515,215 L545,215 Z"/>
<path fill="#575757" d="M125,805 L190,805 L190,830 L155,830 L155,862 L122,862Z M1195,435 L1225,435 L1225,460 L1195,460Z"/>
<path fill="#878787" d="M440,535 L470,535 L470,565 L497,565 L495,620 L465,620 L465,565 L440,565Z M305,625 L460,625 L455,680 L335,680 L335,655 L305,655Z M825,705 L855,705 L855,730 L825,730Z M785,1025 L815,1025 L815,1055 L785,1055Z M995,1050 L1025,1050 L1025,1080 L995,1080Z M870,1085 L930,1085 L930,1110 L895,1110 L895,1140 L835,1140 L835,1110 L870,1110Z"/>
<path fill="#878787" d="M390,715 L420,712 L420,685 L485,685 L485,712 L470,712 L470,740 L605,740 L605,710 L640,710 L640,680 L670,680 L670,765 L690,765 L690,740 L725,740 L725,765 L815,765 L800,1020 L785,1025 L755,1025 L750,1055 L720,1055 L715,1085 L680,1085 L675,1145 L645,1145 L645,1175 L670,1175 L670,1205 L700,1205 L695,1260 L635,1260 L635,1235 L575,1235 L575,1205 L545,1205 L545,1180 L515,1180 L515,1150 L490,1150 L490,1120 L460,1120 L460,1150 L430,1150 L430,1120 L405,1120 L410,1035 L350,1030 L350,975 L365,975 L365,945 L395,945 L395,915 L430,915 L435,800 L440,770 L390,770 Z"/>
<path fill="#575757" d="M630,765 L690,765 L690,795 L715,795 L715,850 L685,850 L685,795 L630,795Z"/>
<path fill="#fff" d="M455,885 L550,885 L550,940 L610,940 L610,915 L640,915 L640,940 L670,940 L670,970 L632,1000 L625,1085 L595,1085 L595,1060 L470,1060 L465,1090 L440,1090 L435,1035 L410,1030 L410,1005 L385,1005 L385,975 L420,975 L425,915 L455,915 Z"/>
<path fill="#000" d="M965,30 L1185,30 L1185,55 L1240,55 L1240,80 L1270,80 L1270,110 L1295,110 L1295,140 L1325,140 L1325,170 L1260,170 L1260,195 L1285,195 L1285,225 L1375,225 L1370,285 L1400,285 L1400,310 L1430,310 L1430,340 L1455,340 L1455,370 L1450,400 L1475,400 L1480,430 L1510,430 L1510,780 L1470,780 L1470,750 L1440,750 L1455,600 L1395,600 L1395,575 L1370,575 L1370,545 L1245,545 L1255,460 L1290,460 L1290,430 L1325,430 L1325,400 L1355,400 L1360,345 L1270,345 L1275,285 L1245,285 L1245,255 L1190,255 L1190,200 L1105,200 L1105,175 L1075,175 L1075,115 L1050,115 L1055,55 L965,55 Z"/>
<path fill="#a0a0a0" d="M1185,30 L1455,30 L1455,50 L1460,105 L1480,105 L1480,135 L1510,135 L1510,430 L1480,430 L1475,400 L1450,400 L1455,370 L1455,340 L1430,340 L1430,310 L1400,310 L1400,285 L1370,285 L1375,225 L1285,225 L1285,195 L1260,195 L1260,170 L1325,170 L1325,140 L1295,140 L1295,110 L1270,110 L1270,80 L1240,80 L1240,55 L1185,55 Z"/>
<path fill="#707070" d="M1430,30 L1510,30 L1510,135 L1480,135 L1480,105 L1455,105 L1455,50 L1430,50Z"/>
<path fill="#000" d="M1490,30 L1510,30 L1510,48 L1490,48Z"/>
<path fill="#878787" d="M1145,55 L1180,55 L1180,80 L1205,80 L1205,110 L1145,110Z"/>
<path fill="#000" d="M20,1390 L50,1390 L50,1450 L75,1450 L75,1480 L20,1480Z"/>
</svg>
</g>
<rect x="983" y="917.5" width="180" height="31.5" rx="4" fill="#000"/>
<text x="990" y="940" font-size="20.5" font-weight="bold" fill="#fff">WMG Count: 0</text>
<rect x="971" y="903" width="749.5" height="750" fill="none" stroke="#000" stroke-width="2.5"/>
</svg>
</body></html>
